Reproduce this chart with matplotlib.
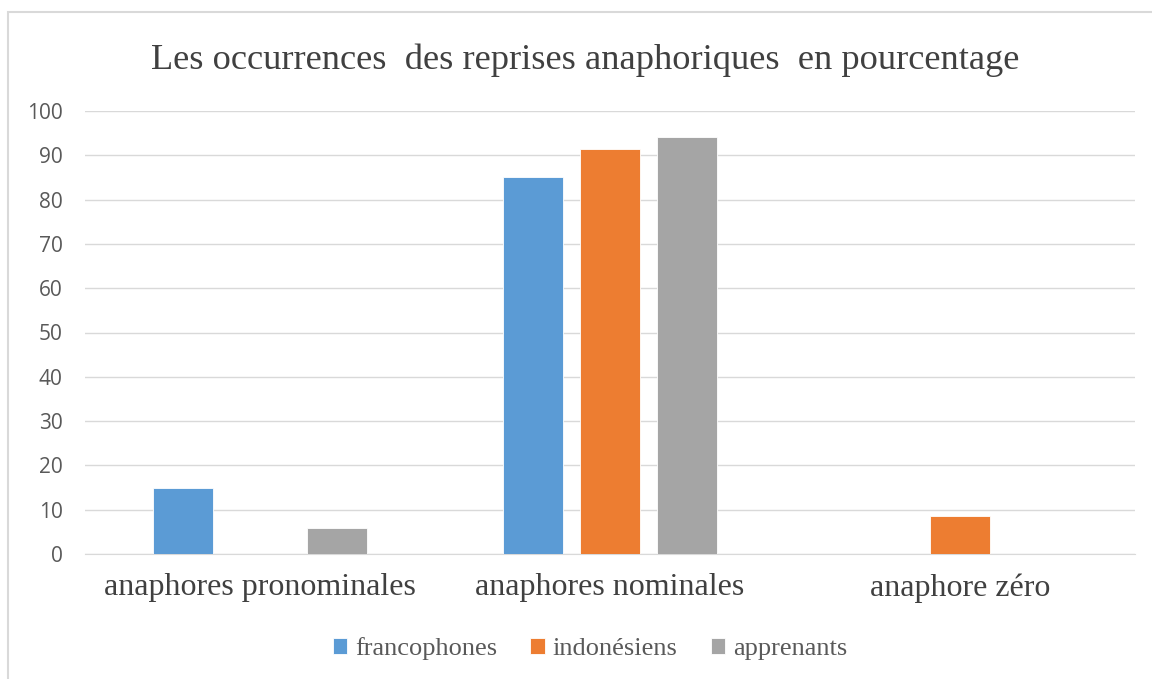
import matplotlib.pyplot as plt
import numpy as np
from matplotlib.patches import Rectangle

# Data
categories = ["anaphores pronominales", "anaphores nominales", "anaphore zéro"]
francophones = [14.8, 85.2, 0]
indonesiens = [0, 91.4, 8.6]
apprenants = [5.8, 94.2, 0]
series_names = ["francophones", "indonésiens", "apprenants"]
colors = ["#5B9BD5", "#ED7D31", "#A5A5A5"]
yticks = [0, 10, 20, 30, 40, 50, 60, 70, 80, 90, 100]

fig = plt.figure(figsize=(11.52, 6.79), dpi=100)

# light chart border (top and left visible in the crop)
fig.patches.append(Rectangle((8 / 1152, -0.1), 1.2, 1 - 12 / 679 + 0.1,
                             transform=fig.transFigure, fill=False,
                             edgecolor="#D9D9D9", linewidth=1.5))

ax = fig.add_axes([85 / 1152, 1 - 554 / 679, 1050 / 1152, 443 / 679])

x = np.arange(len(categories))
width = 0.174
step = 0.22
for i, (vals, name) in enumerate(zip([francophones, indonesiens, apprenants], series_names)):
    ax.bar(x + (i - 1) * step, vals, width, color=colors[i], label=name,
           edgecolor="white", linewidth=0.6, zorder=3)

ax.set_xlim(-0.5, 2.5)
ax.set_ylim(0, 100)
ax.set_yticks(yticks)
ax.set_xticks(x)
ax.set_xticklabels(categories, family="Liberation Serif", fontsize=23, color="#404040")
ax.tick_params(axis="x", length=0, pad=14)
ax.tick_params(axis="y", length=0, pad=16, labelsize=15, labelcolor="#595959")
for lab in ax.get_yticklabels():
    lab.set_family("Open Sans")

ax.grid(axis="y", color="#D9D9D9", linewidth=1, zorder=0)
for side in ["top", "right", "left"]:
    ax.spines[side].set_visible(False)
ax.spines["bottom"].set_color("#D9D9D9")

fig.text(585 / 1152, 1 - 60 / 679, "Les occurrences  des reprises anaphoriques  en pourcentage",
         ha="center", va="center", family="Liberation Serif", fontsize=26.2, color="#404040")

leg = ax.legend(loc="center", bbox_to_anchor=(590 / 1152, 1 - 649 / 679),
                bbox_transform=fig.transFigure, ncol=3, frameon=False,
                prop={"family": "Liberation Serif", "size": 19},
                handlelength=0.55, handleheight=0.55, handletextpad=0.3, columnspacing=1.25)
for t in leg.get_texts():
    t.set_color("#595959")

fig.savefig("out.png", dpi=100)
